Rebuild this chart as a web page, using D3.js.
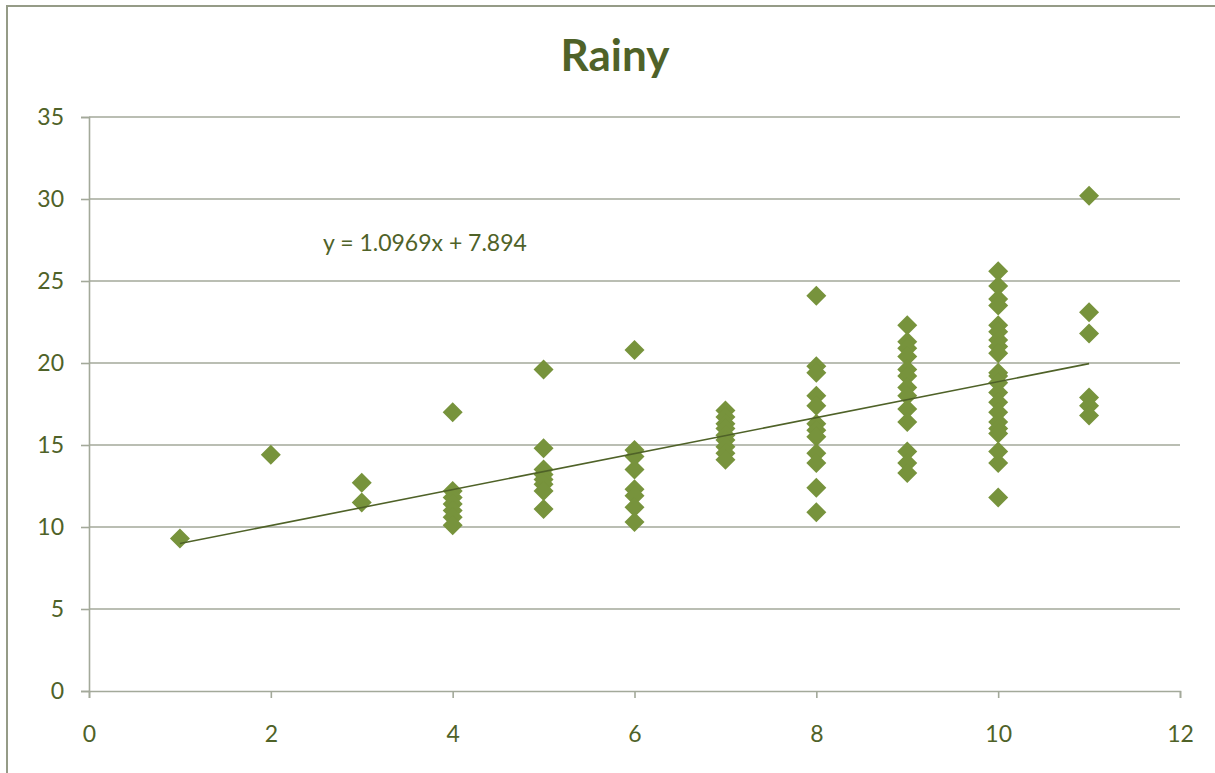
<!DOCTYPE html>
<html>
<head>
<meta charset="utf-8">
<script src="https://cdn.jsdelivr.net/npm/d3@7"></script>
<style>
  body { margin: 0; background: #fff; }
  text { font-family: Lato, "Open Sans", sans-serif; fill: #4f6228; }
</style>
</head>
<body>
<script>
var width = 1215,
    height = 773;

// x categories and the y readings for each of them
var xValues = [1, 2, 3, 4, 5, 6, 7, 8, 9, 10, 11];
var yAt1 = [9.3];
var yAt2 = [14.4];
var yAt3 = [12.7, 11.5];
var yAt4 = [17.0, 12.2, 11.8, 11.4, 11.0, 10.6, 10.1];
var yAt5 = [19.6, 14.8, 13.5, 13.2, 12.9, 12.6, 12.2, 11.1];
var yAt6 = [20.8, 14.7, 14.3, 13.5, 12.3, 11.9, 11.2, 10.3];
var yAt7 = [17.1, 16.7, 16.3, 16.0, 15.6, 15.3, 14.9, 14.5, 14.1];
var yAt8 = [24.1, 19.8, 19.4, 18.0, 17.4, 16.3, 15.9, 15.5, 14.5, 13.9, 12.4, 10.9];
var yAt9 = [22.3, 21.3, 20.9, 20.4, 19.6, 19.2, 18.5, 18.0, 17.2, 16.4, 14.6, 13.9, 13.3];
var yAt10 = [25.6, 24.7, 23.9, 23.5, 22.3, 21.9, 21.4, 21.0, 20.6, 19.4, 19.2, 18.8, 18.2,
             17.6, 17.0, 16.4, 16.0, 15.7, 14.6, 13.9, 11.8];
var yAt11 = [30.2, 23.1, 21.8, 17.9, 17.4, 16.8];
var yGroups = [yAt1, yAt2, yAt3, yAt4, yAt5, yAt6, yAt7, yAt8, yAt9, yAt10, yAt11];

var xTicks = [0, 2, 4, 6, 8, 10, 12];
var yTicks = [0, 5, 10, 15, 20, 25, 30, 35];

// trendline as printed on the chart
var slope = 1.0969, intercept = 7.894;
var trendLabel = "y = 1.0969x + 7.894";
var title = "Rainy";

var points = [];
xValues.forEach(function(xv, i) {
  yGroups[i].forEach(function(yv) { points.push({x: xv, y: yv}); });
});

var svg = d3.select("body").append("svg")
    .attr("width", width)
    .attr("height", height);

// chart border (cut off at right and bottom)
svg.append("rect")
    .attr("x", 7).attr("y", 6)
    .attr("width", 1300).attr("height", 900)
    .attr("fill", "none")
    .attr("stroke", "#959b87")
    .attr("stroke-width", 2);

var x = d3.scaleLinear().domain([0, 12]).range([89, 1180]);
var y = d3.scaleLinear().domain([0, 35]).range([691, 117]);

// gridlines
svg.append("g")
  .selectAll("line")
  .data(yTicks.filter(function(d) { return d > 0; }))
  .enter().append("line")
    .attr("x1", x(0)).attr("x2", x(12))
    .attr("y1", function(d) { return y(d); })
    .attr("y2", function(d) { return y(d); })
    .attr("stroke", "#a3a99a")
    .attr("stroke-width", 1.6);

// y axis
var yAxis = svg.append("g")
    .attr("transform", "translate(" + x(0) + ",0)")
    .call(d3.axisLeft(y).tickValues(yTicks).tickSize(8).tickPadding(17));
yAxis.select(".domain").attr("stroke", "#a3a99a").attr("stroke-width", 1.6);
yAxis.selectAll(".tick line").attr("stroke", "#a3a99a").attr("stroke-width", 1.6);
yAxis.selectAll("text").style("font-size", "23px").attr("fill", "#4f6228");

// x axis
var xAxis = svg.append("g")
    .attr("transform", "translate(0," + y(0) + ")")
    .call(d3.axisBottom(x).tickValues(xTicks).tickSize(7).tickPadding(28));
xAxis.select(".domain").attr("stroke", "#a3a99a").attr("stroke-width", 1.6);
xAxis.selectAll(".tick line").attr("stroke", "#a3a99a").attr("stroke-width", 1.6);
xAxis.selectAll("text").style("font-size", "23px").attr("fill", "#4f6228");

// points
var diamond = d3.symbol().type(d3.symbolSquare).size(200);
svg.append("g")
  .selectAll("path")
  .data(points)
  .enter().append("path")
    .attr("d", diamond)
    .attr("transform", function(d) {
      return "translate(" + x(d.x) + "," + y(d.y) + ") rotate(45)";
    })
    .attr("fill", "#77933c");

// trendline
var xMin = d3.min(xValues), xMax = d3.max(xValues);
svg.append("line")
    .attr("x1", x(xMin)).attr("y1", y(slope * xMin + intercept))
    .attr("x2", x(xMax)).attr("y2", y(slope * xMax + intercept))
    .attr("stroke", "#4f6228")
    .attr("stroke-width", 1.6);

svg.append("text")
    .attr("x", 323).attr("y", 251)
    .style("font-size", "23px")
    .text(trendLabel);

svg.append("text")
    .attr("x", 615).attr("y", 71)
    .attr("text-anchor", "middle")
    .style("font-size", "44px")
    .style("font-weight", "bold")
    .text(title);
</script>
</body>
</html>
